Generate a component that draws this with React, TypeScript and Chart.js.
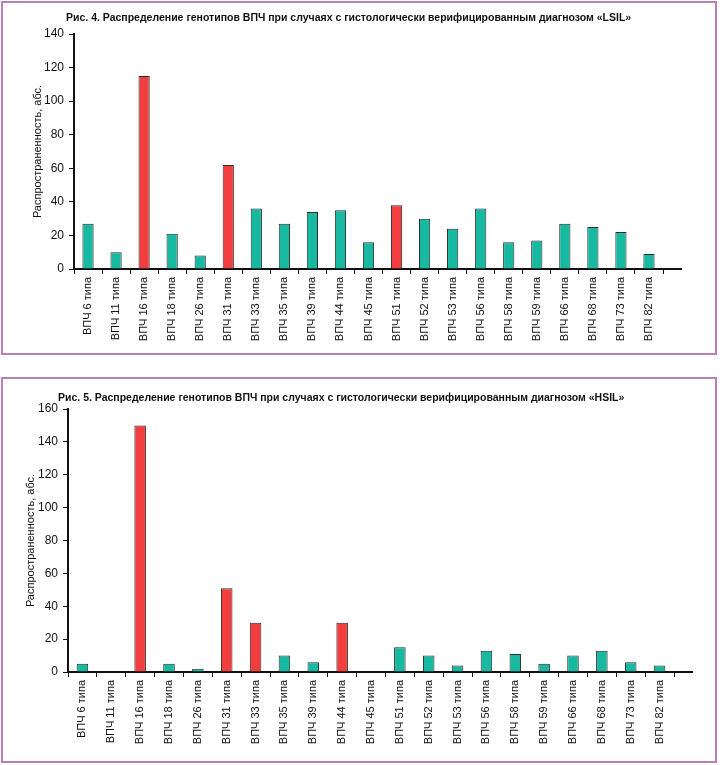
import React, { useEffect, useRef } from "react";
import { Chart, registerables } from "chart.js";

Chart.register(...registerables);

const categories = [
  "ВПЧ 6 типа", "ВПЧ 11 типа", "ВПЧ 16 типа", "ВПЧ 18 типа", "ВПЧ 26 типа",
  "ВПЧ 31 типа", "ВПЧ 33 типа", "ВПЧ 35 типа", "ВПЧ 39 типа", "ВПЧ 44 типа",
  "ВПЧ 45 типа", "ВПЧ 51 типа", "ВПЧ 52 типа", "ВПЧ 53 типа", "ВПЧ 56 типа",
  "ВПЧ 58 типа", "ВПЧ 59 типа", "ВПЧ 66 типа", "ВПЧ 68 типа", "ВПЧ 73 типа",
  "ВПЧ 82 типа",
];

const lsilValues = [27, 10, 115, 21, 8, 62, 36, 27, 34, 35, 16, 38, 30, 24, 36, 16, 17, 27, 25, 22, 9];
const lsilHighlighted = ["ВПЧ 16 типа", "ВПЧ 31 типа", "ВПЧ 51 типа"];
const lsilTitle = "Рис. 4. Распределение генотипов ВПЧ при случаях с гистологически верифицированным диагнозом «LSIL»";
const lsilMax = 140;

const hsilValues = [5, 0, 150, 5, 2, 51, 30, 10, 6, 30, 0, 15, 10, 4, 13, 11, 5, 10, 13, 6, 4];
const hsilHighlighted = ["ВПЧ 16 типа", "ВПЧ 31 типа", "ВПЧ 33 типа", "ВПЧ 44 типа"];
const hsilTitle = "Рис. 5. Распределение генотипов ВПЧ при случаях с гистологически верифицированным диагнозом «HSIL»";
const hsilMax = 160;

const yAxisTitle = "Распространенность, абс.";
const tickStep = 20;

const TEAL = "#17b9a1";
const RED = "#f23e3e";
const INK = "#111111";
const FONT = "'Liberation Sans', Arial, Helvetica, sans-serif";
const FRAME = "#b77fb4";

const axisExtension = {
  id: "axisExtension",
  afterDraw(chart: any, _args: any, opts: any) {
    const { ctx, chartArea, scales } = chart;
    const y = scales.y.getPixelForValue(0);
    ctx.save();
    ctx.strokeStyle = INK;
    ctx.lineWidth = 2;
    ctx.beginPath();
    ctx.moveTo(chartArea.right - 1, y);
    ctx.lineTo(chartArea.right + (opts.length || 0), y);
    ctx.stroke();
    ctx.restore();
  },
};

type Cfg = {
  values: number[];
  highlighted: string[];
  max: number;
  width: number;
  height: number;
  yAxisWidth: number;
  xAxisHeight: number;
  padTop: number;
  padRight: number;
  titlePad: number;
  extension: number;
};

function BarChart(props: Cfg) {
  const ref = useRef<HTMLCanvasElement | null>(null);
  useEffect(() => {
    if (!ref.current) return;
    const chart = new Chart(ref.current, {
      type: "bar",
      data: {
        labels: categories,
        datasets: [
          {
            data: props.values,
            backgroundColor: categories.map((c) => (props.highlighted.includes(c) ? RED : TEAL)),
            borderColor: "#2b2b2b",
            borderWidth: 1,
            barPercentage: 0.4,
            categoryPercentage: 1,
          },
        ],
      },
      options: {
        responsive: false,
        animation: false,
        devicePixelRatio: 1,
        layout: { padding: { left: 0, top: props.padTop, right: props.padRight, bottom: 0 } },
        plugins: {
          legend: { display: false },
          tooltip: { enabled: false },
          title: { display: false },
          axisExtension: { length: props.extension },
        } as any,
        scales: {
          x: {
            type: "category",
            offset: true,
            border: { display: true, color: INK, width: 2 },
            grid: {
              display: true,
              offset: true,
              drawOnChartArea: false,
              drawTicks: true,
              tickLength: 5,
              color: INK,
              lineWidth: 1,
            },
            ticks: {
              autoSkip: false,
              minRotation: 90,
              maxRotation: 90,
              padding: 3,
              color: INK,
              font: { family: FONT, size: 11 },
            },
            afterFit: (scale: any) => {
              scale.height = props.xAxisHeight;
            },
          },
          y: {
            min: 0,
            max: props.max,
            border: { display: true, color: INK, width: 2 },
            grid: {
              display: true,
              drawOnChartArea: false,
              drawTicks: true,
              tickLength: 5,
              color: INK,
              lineWidth: 1,
            },
            ticks: {
              stepSize: tickStep,
              padding: 5,
              color: INK,
              font: { family: FONT, size: 12 },
            },
            title: {
              display: true,
              text: yAxisTitle,
              color: INK,
              font: { family: FONT, size: 11 },
              padding: { top: props.titlePad, bottom: 0 },
            },
            afterFit: (scale: any) => {
              scale.width = props.yAxisWidth;
            },
          },
        },
      } as any,
      plugins: [axisExtension],
    });
    return () => chart.destroy();
  }, []);
  return (
    <canvas
      ref={ref}
      width={props.width}
      height={props.height}
      style={{ width: props.width, height: props.height, display: "block" }}
    />
  );
}

const titleStyle: React.CSSProperties = {
  position: "absolute",
  fontFamily: FONT,
  fontWeight: "bold",
  fontSize: 10.5,
  lineHeight: "14px",
  color: INK,
  whiteSpace: "nowrap",
};

export default function App() {
  return (
    <div style={{ position: "absolute", left: 0, top: 0, width: 720, height: 765, background: "#fff" }}>
      <div
        style={{
          position: "absolute",
          left: 1,
          top: 1,
          width: 716,
          height: 354,
          border: `2px solid ${FRAME}`,
          boxSizing: "border-box",
        }}
      />
      <div
        style={{
          position: "absolute",
          left: 1,
          top: 377,
          width: 716,
          height: 386,
          border: `2px solid ${FRAME}`,
          boxSizing: "border-box",
        }}
      />
      <div style={{ position: "absolute", left: 0, top: 0 }}>
        <BarChart
          values={lsilValues}
          highlighted={lsilHighlighted}
          max={lsilMax}
          width={720}
          height={355}
          yAxisWidth={74}
          xAxisHeight={86}
          padTop={34}
          padRight={57}
          titlePad={31}
          extension={19}
        />
      </div>
      <div style={{ position: "absolute", left: 0, top: 378 }}>
        <BarChart
          values={hsilValues}
          highlighted={hsilHighlighted}
          max={hsilMax}
          width={720}
          height={384}
          yAxisWidth={68}
          xAxisHeight={90}
          padTop={31}
          padRight={46}
          titlePad={24}
          extension={19}
        />
      </div>
      <div style={{ ...titleStyle, left: 66, top: 10 }}>{lsilTitle}</div>
      <div style={{ ...titleStyle, left: 58, top: 390 }}>{hsilTitle}</div>
    </div>
  );
}
